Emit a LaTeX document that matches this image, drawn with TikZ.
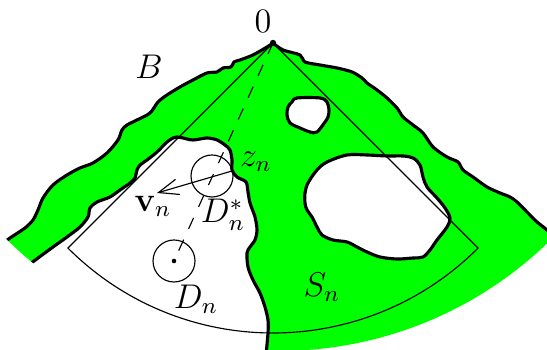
\documentclass[tikz,border=0pt]{standalone}
\usepackage{amsmath,amssymb}
\usepackage{tikz}
\usetikzlibrary{arrows.meta}
\usepackage{xcolor}

\begin{document}
\begin{tikzpicture}[x=0.35pt,y=-0.35pt,
  bdry/.style={line width=1.1pt,line join=round},
  hole/.style={bdry,fill=white},
  lbl/.style={font=\large,inner sep=0pt}]
  \useasboundingbox (0,0) rectangle (547,350);

  % 点
  \coordinate (O) at (273,43);
  \coordinate (zn) at (232,171);
  \coordinate (cs) at (212,176);
  \coordinate (cn) at (174,261);
  \coordinate (vtip) at (157,193);

  % 領域 B
  \begin{scope}
    \clip (279,-37) circle[radius=388];
    \filldraw[bdry,fill=green]
      plot[smooth,tension=0.5] coordinates {(2,244) (10,238) (25,228) (33,220) (38,210) (43,198)
        (53,185) (67,175) (80,168) (93,163) (107,153) (118,140) (122,130) (127,125) (137,120)
        (150,113) (158,102) (167,95) (180,87) (193,80) (207,73) (217,72) (223,68) (231,67)
        (234,62) (240,60) (253,55) (267,47) (273,43)}
      -- plot[smooth,tension=0.5] coordinates {(273,43) (283,50) (300,55) (305,62) (320,65)
        (337,68) (352,72) (362,78) (367,83) (377,90) (387,98) (397,108) (403,117) (413,125)
        (423,133) (433,147) (447,157) (458,162) (463,170) (473,177) (487,187) (500,193)
        (510,197) (517,202) (527,212) (537,222) (547,230) (555,238)}
      -- (600,238) -- (600,420) -- (266,420)
      -- plot[smooth,tension=0.5] coordinates {(266,355) (268,333) (268,320) (265,307)
        (260,293) (253,280) (248,267) (247,253) (250,247) (255,240) (257,230) (255,217)
        (250,203) (248,192) (246,182) (237,177) (232,170) (232,160) (230,150) (225,145)
        (217,140) (207,138) (193,140) (183,138) (177,137) (173,138) (167,142) (157,152)
        (147,160) (140,165) (137,170) (135,178) (130,183) (120,190) (110,197) (97,202)
        (90,208) (88,217) (80,227) (67,237) (53,247) (38,258) (30,264)}
      -- cycle;
    % 穴
    \filldraw[hole] plot[smooth cycle,tension=0.55] coordinates {(297,98) (320,98) (327,102)
      (329,110) (328,117) (325,122) (317,132) (310,132) (300,128) (290,123) (287,115)
      (288,107) (292,102)};
    \filldraw[hole] plot[smooth cycle,tension=0.55] coordinates {(305,193) (308,183) (317,170)
      (327,162) (347,155) (367,155) (387,156) (403,156) (413,158) (420,165) (423,177)
      (427,187) (437,198) (445,208) (450,218) (447,227) (437,240) (430,250) (423,257)
      (413,258) (397,259) (380,257) (367,252) (357,247) (347,242) (333,240) (322,235)
      (317,227) (312,217) (307,210) (305,203)};
  \end{scope}

  % 扇形
  \draw (O) -- ++(135:290) coordinate (sL)
    arc[start angle=135,end angle=45,radius=290] coordinate (sR) -- cycle;

  % 円板
  \draw[dash pattern=on 4.2pt off 4.2pt] (O) -- (cn);
  \draw (cs) circle[radius=21];
  \draw (cn) circle[radius=21];
  \fill (cn) circle[radius=2.3];
  \fill (O) circle[radius=3.2];
  \draw[-{Straight Barb[length=7pt,width=5.5pt]}] (zn) -- (vtip);

  % ラベル
  \node[lbl] (lblO) at (263,21) {$0$};
  \node[lbl] (lblB) at (149,67) {$B$};
  \node[lbl] (lblz) at (256,162) {$z_n$};
  \node[lbl] (lblv) at (153,206) {$\mathbf{v}_n$};
  \node[lbl] (lblDs) at (223,215) {$D_n^*$};
  \node[lbl] (lblD) at (196,299) {$D_n$};
  \node[lbl] (lblS) at (322,287) {$S_n$};
\end{tikzpicture}
\end{document}
